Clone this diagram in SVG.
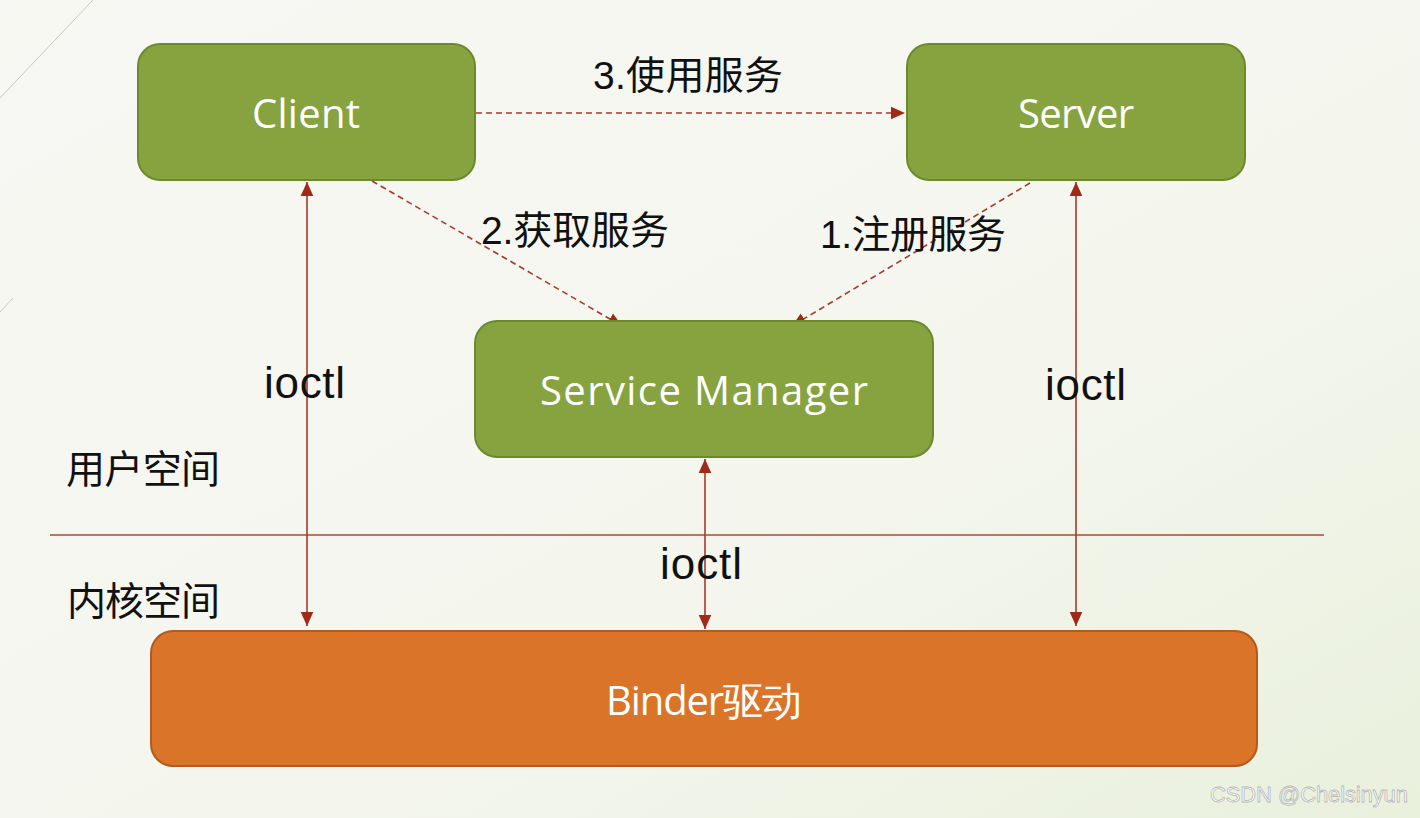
<svg xmlns="http://www.w3.org/2000/svg" width="1420" height="818" viewBox="0 0 1420 818">
<defs>
<linearGradient id="bg" x1="0" y1="0" x2="1" y2="1">
<stop offset="0" stop-color="#f7f7f3"/>
<stop offset="0.6" stop-color="#f4f6ee"/>
<stop offset="1" stop-color="#e9f0dc"/>
</linearGradient>
<marker id="ahb" viewBox="0 0 10 10" refX="10" refY="5" markerWidth="14" markerHeight="14" orient="auto-start-reverse" markerUnits="userSpaceOnUse">
<path d="M0,0.5 L10,5 L0,9.5 z" fill="#9e2a17"/>
</marker>
</defs>
<style>
.green{fill:#86a33f;stroke:#6b8a2c;stroke-width:2}
.orange{fill:#d97429;stroke:#b35a1c;stroke-width:2}
.boxt{font-family:"Open Sans","Liberation Sans",sans-serif;font-size:40px;fill:#ffffff;text-anchor:middle}
.lbl{font-family:"Liberation Sans","Noto Sans CJK SC",sans-serif;font-size:39px;fill:#111111}
.io{font-family:"Liberation Sans",sans-serif;font-size:44px;fill:#111111}
.solid{stroke:#a8392a;stroke-width:1.6;fill:none}
.dash{stroke:#a8392a;stroke-width:1.6;fill:none;stroke-dasharray:6 4}
</style>
<rect width="1420" height="818" fill="url(#bg)"/>
<line x1="0" y1="98" x2="93" y2="0" stroke="#c8c8c0" stroke-width="1"/>
<line x1="0" y1="312" x2="13" y2="298" stroke="#c8c8c0" stroke-width="1"/>
<line x1="50" y1="535" x2="1324" y2="535" stroke="#a84a3a" stroke-width="1.5"/>
<g id="connectors">
<line class="dash" x1="476" y1="113" x2="905" y2="113" marker-end="url(#ahb)"/>
<line class="dash" x1="372" y1="181" x2="622" y2="326" marker-end="url(#ahb)"/>
<line class="dash" x1="1030" y1="183" x2="792" y2="326" marker-end="url(#ahb)"/>
<line class="solid" x1="307" y1="182" x2="307" y2="626" marker-start="url(#ahb)" marker-end="url(#ahb)"/>
<line class="solid" x1="1076" y1="182" x2="1076" y2="626" marker-start="url(#ahb)" marker-end="url(#ahb)"/>
<line class="solid" x1="705" y1="459" x2="705" y2="629" marker-start="url(#ahb)" marker-end="url(#ahb)"/>
</g>
<g id="client">
<rect class="green" x="138" y="44" width="337" height="136" rx="22"/>
<text class="boxt" x="306" y="128" textLength="108">Client</text>
</g>
<g id="server">
<rect class="green" x="907" y="44" width="338" height="136" rx="22"/>
<text class="boxt" x="1076" y="128" textLength="116">Server</text>
</g>
<g id="servicemanager">
<rect class="green" x="475" y="321" width="458" height="136" rx="22"/>
<text class="boxt" x="704" y="405" textLength="328">Service Manager</text>
</g>
<g id="binder">
<rect class="orange" x="151" y="631" width="1106" height="135" rx="22"/>
<text class="boxt" x="704" y="715" textLength="196">Binder驱动</text>
</g>
<g id="labels">
<text class="lbl" x="593" y="89" textLength="190">3.使用服务</text>
<text class="lbl" x="481" y="244" textLength="188">2.获取服务</text>
<text class="lbl" x="820" y="248" textLength="186">1.注册服务</text>
<text class="io" x="264" y="398" textLength="81">ioctl</text>
<text class="io" x="1045" y="400" textLength="81">ioctl</text>
<text class="io" x="660" y="579" textLength="82">ioctl</text>
<text class="lbl" x="66" y="483" textLength="154">用户空间</text>
<text class="lbl" x="67" y="615" textLength="153">内核空间</text>
</g>
<text x="1210" y="802" font-family="Liberation Sans,sans-serif" font-size="22" fill="#ffffff" stroke="#b8b8b8" stroke-width="0.8" textLength="198">CSDN @Chelsinyun</text>
</svg>
